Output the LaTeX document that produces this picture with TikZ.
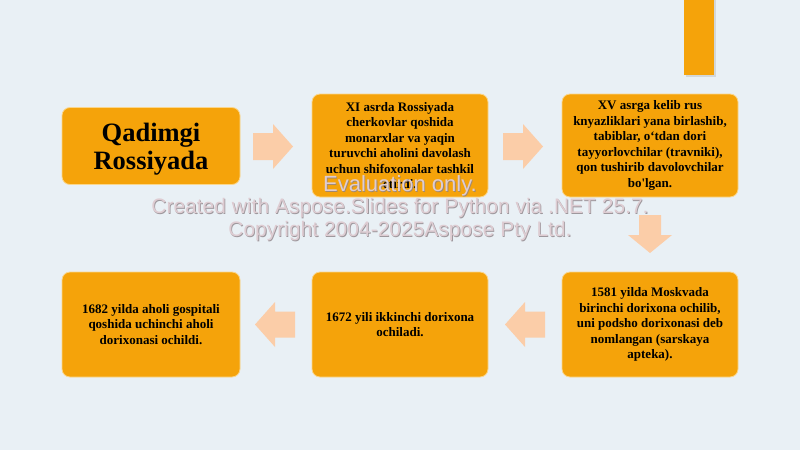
\documentclass[tikz,border=0pt]{standalone}
\usepackage{fontspec}
\setmainfont{Liberation Serif}
\newfontfamily\wmfont{Liberation Sans}
\definecolor{bgc}{RGB}{233,240,245}
\definecolor{boxc}{RGB}{245,163,10}
\definecolor{boxedge}{RGB}{250,214,140}
\definecolor{arrc}{RGB}{251,205,168}
\definecolor{wmc}{RGB}{222,204,210}
\definecolor{wmshade}{RGB}{140,130,135}
\begin{document}
\begin{tikzpicture}[x=1pt,y=-1pt,
  stepbox/.style={draw=boxedge,line width=0.8pt,fill=boxc,rounded corners=8pt,
    inner sep=0pt,align=center,text=black,
    font=\fontsize{13}{15.5}\selectfont\bfseries},
  titletext/.style={anchor=base,inner sep=0pt,text=black,font=\fontsize{26.5}{30}\selectfont\bfseries},
  blockarrow/.style={fill=arrc,draw=none},
  wm/.style={text=wmc,align=center},
  wmsh/.style={text=wmshade,align=center,opacity=0.8},
  wmbig/.style={font=\wmfont\fontsize{22}{26}\selectfont},
  wmsmall/.style={font=\wmfont\fontsize{21}{25}\selectfont}]
\fill[bgc] (0,0) rectangle (800,450);
\useasboundingbox (0,0) rectangle (800,450);
% top-right bar
\fill[black!25,opacity=0.5] (686,0) rectangle (716,77);
\fill[boxc] (684,0) rectangle (714,75);
% boxes
\node[stepbox,minimum width=178pt,minimum height=77pt] (b1) at (151,146) {};
\node[titletext] (b1q) at (151,141) {Qadimgi};
\node[titletext] (b1r) at (151,169) {Rossiyada};
\node[stepbox,minimum width=176pt,minimum height=103pt] (b2) at (400,145.5) {XI asrda Rossiyada\\cherkovlar qoshida\\monarxlar va yaqin\\turuvchi aholini davolash\\uchun shifoxonalar tashkil\\etirdi.};
\node[stepbox,minimum width=176pt,minimum height=103pt] (b3) at (650,145.5) {XV asrga kelib rus\\knyazliklari yana birlashib,\\tabiblar, o‘tdan dori\\tayyorlovchilar (travniki),\\qon tushirib davolovchilar\\bo\textquotesingle lgan.};
\node[stepbox,minimum width=178pt,minimum height=105pt] (b4) at (151,324.5) {1682 yilda aholi gospitali\\qoshida uchinchi aholi\\dorixonasi ochildi.};
\node[stepbox,minimum width=176pt,minimum height=105pt] (b5) at (400,324.5) {1672 yili ikkinchi dorixona\\ochiladi.};
\node[stepbox,minimum width=176pt,minimum height=105pt] (b6) at (650,324.5) {1581 yilda Moskvada\\birinchi dorixona ochilib,\\uni podsho dorixonasi deb\\nomlangan (sarskaya\\apteka).};
% block arrows
\fill[blockarrow] (253,133) -- (273,133) -- (273,124) -- (293,146.5) -- (273,169) -- (273,160) -- (253,160) -- cycle;
\fill[blockarrow] (503,133) -- (523,133) -- (523,124) -- (543,146.5) -- (523,169) -- (523,160) -- (503,160) -- cycle;
\fill[blockarrow] (639,215) -- (661,215) -- (661,235) -- (672,235) -- (650,253) -- (628,235) -- (639,235) -- cycle;
\fill[blockarrow] (295,311.5) -- (275,311.5) -- (275,302) -- (255,324.5) -- (275,347) -- (275,337.5) -- (295,337.5) -- cycle;
\fill[blockarrow] (545,311.5) -- (525,311.5) -- (525,302) -- (505,324.5) -- (525,347) -- (525,337.5) -- (545,337.5) -- cycle;
% watermark (shadow then face)
\node[wmsh,wmbig] (wm1s) at (400.8,186.8) {Evaluation only.};
\node[wm,wmbig] (wm1) at (400,186) {Evaluation only.};
\node[wmsh,wmsmall] (wm2s) at (400.8,209.3) {Created with Aspose.Slides for Python via .NET 25.7.};
\node[wm,wmsmall] (wm2) at (400,208.5) {Created with Aspose.Slides for Python via .NET 25.7.};
\node[wmsh,wmsmall] (wm3s) at (400.8,231.8) {Copyright 2004-2025Aspose Pty Ltd.};
\node[wm,wmsmall] (wm3) at (400,231) {Copyright 2004-2025Aspose Pty Ltd.};
\end{tikzpicture}
\end{document}
